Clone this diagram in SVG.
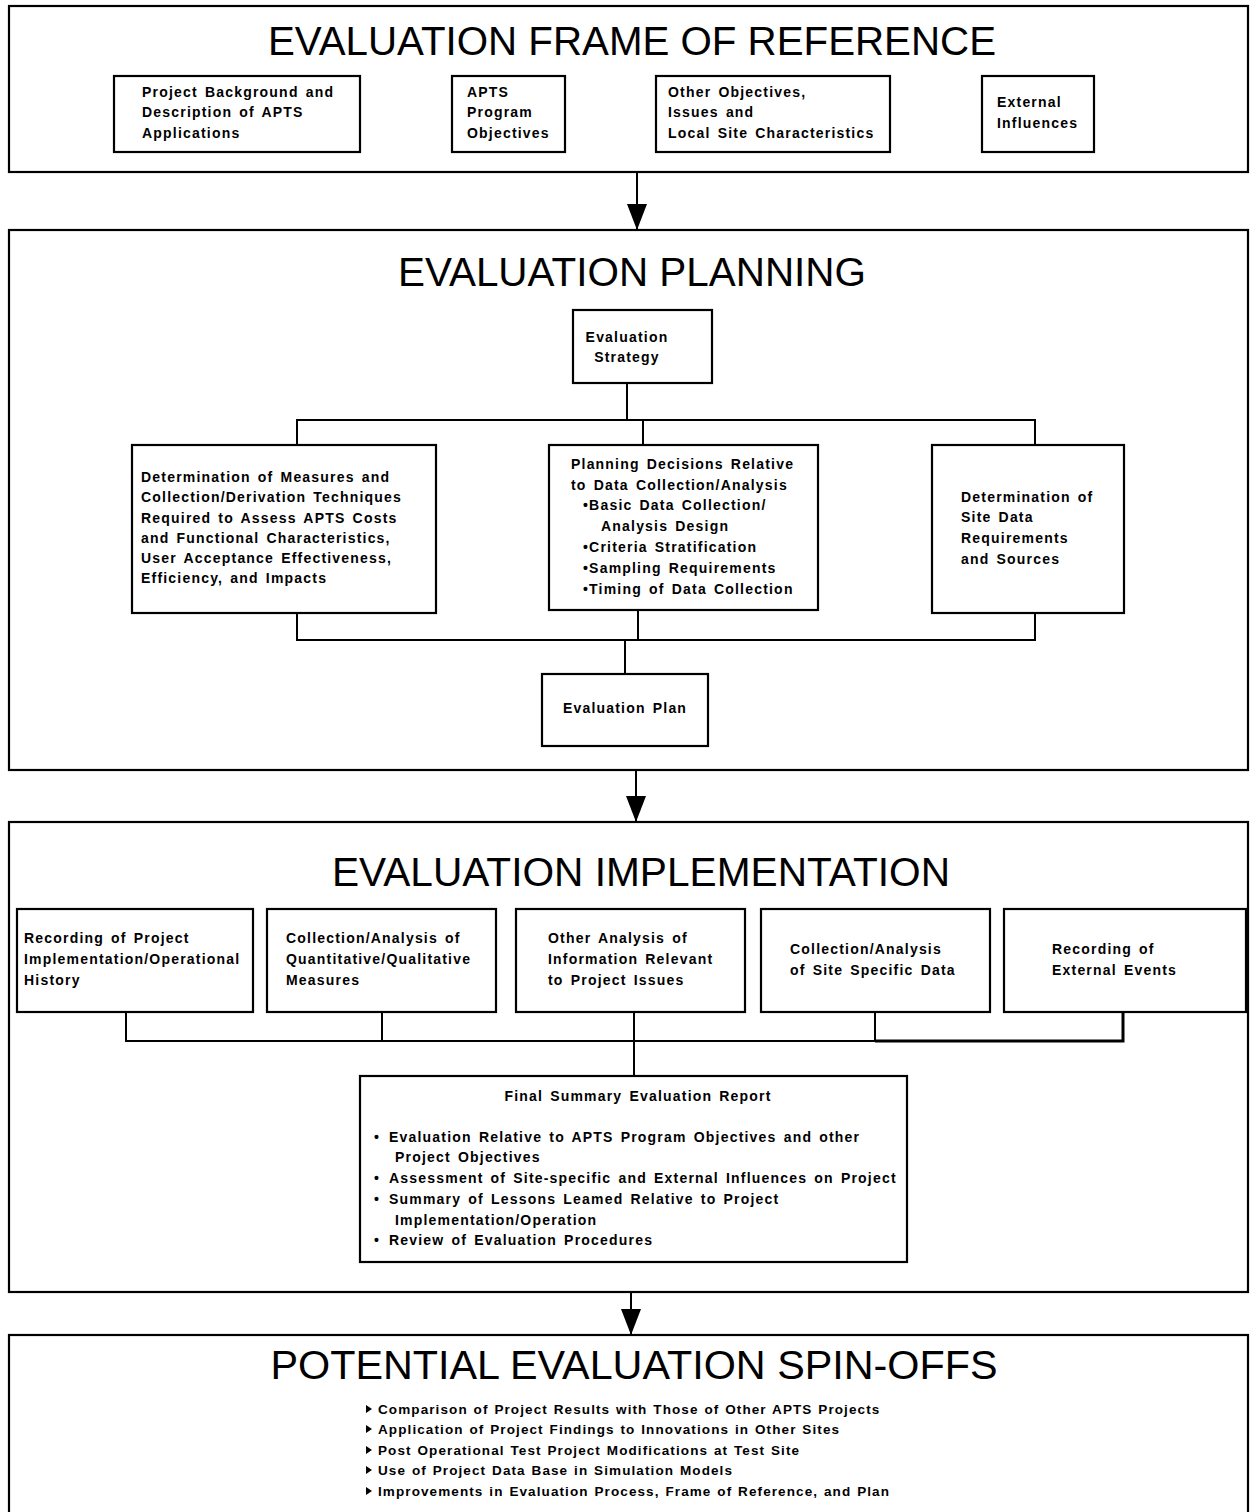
<svg xmlns="http://www.w3.org/2000/svg" width="1250" height="1512" viewBox="0 0 1250 1512">
<defs>
<style>
.frame{fill:#fff;stroke:#000;stroke-width:2.2}
.box{fill:#fff;stroke:#000;stroke-width:2.2}
.ttl{font-family:"Liberation Sans",Arial,sans-serif;font-size:40px;fill:#000;text-anchor:middle}
.t{font-family:"Liberation Sans",Arial,sans-serif;font-size:14px;font-weight:bold;fill:#000;letter-spacing:1.2px;word-spacing:2px}
.s{font-family:"Liberation Sans",Arial,sans-serif;font-size:13.5px;font-weight:bold;fill:#000;letter-spacing:1.1px;word-spacing:1px}
.c{text-anchor:middle}
.ln{fill:none;stroke:#000;stroke-width:2}
.lnb{fill:none;stroke:#000;stroke-width:3}
</style>
<marker id="arr" viewBox="0 0 26 20" refX="26" refY="10" markerWidth="26" markerHeight="20" markerUnits="userSpaceOnUse" orient="auto">
<path d="M0,0 L26,10 L0,20 Z" fill="#000"/>
</marker>
</defs>
<rect width="1250" height="1512" fill="#fff"/>

<g id="frame-of-reference">
<rect class="frame" x="9" y="6" width="1239" height="166"/>
<text class="ttl" x="632" y="55" textLength="728" lengthAdjust="spacingAndGlyphs">EVALUATION FRAME OF REFERENCE</text>
</g>
<g id="node-background">
<rect class="box" x="114" y="76" width="246" height="76"/>
<text class="t" x="142" y="97">Project Background and</text>
<text class="t" x="142" y="117">Description of APTS</text>
<text class="t" x="142" y="138">Applications</text>
</g>
<g id="node-apts-objectives">
<rect class="box" x="452" y="76" width="113" height="76"/>
<text class="t" x="467" y="97">APTS</text>
<text class="t" x="467" y="117">Program</text>
<text class="t" x="467" y="138">Objectives</text>
</g>
<g id="node-other-objectives">
<rect class="box" x="656" y="76" width="234" height="76"/>
<text class="t" x="668" y="97">Other Objectives,</text>
<text class="t" x="668" y="117">Issues and</text>
<text class="t" x="668" y="138">Local Site Characteristics</text>
</g>
<g id="node-external">
<rect class="box" x="982" y="76" width="112" height="76"/>
<text class="t" x="997" y="107">External</text>
<text class="t" x="997" y="128">Influences</text>
</g>

<g id="planning">
<rect class="frame" x="9" y="230" width="1239" height="540"/>
<text class="ttl" x="632" y="286" textLength="468" lengthAdjust="spacingAndGlyphs">EVALUATION PLANNING</text>
</g>
<g id="node-strategy">
<rect class="box" x="573" y="310" width="139" height="73"/>
<text class="t c" x="627" y="342">Evaluation</text>
<text class="t c" x="627" y="362">Strategy</text>
</g>
<g id="node-measures">
<rect class="box" x="132" y="445" width="304" height="168"/>
<text class="t" x="141" y="482">Determination of Measures and</text>
<text class="t" x="141" y="502">Collection/Derivation Techniques</text>
<text class="t" x="141" y="523">Required to Assess APTS Costs</text>
<text class="t" x="141" y="543">and Functional Characteristics,</text>
<text class="t" x="141" y="563">User Acceptance Effectiveness,</text>
<text class="t" x="141" y="583">Efficiency, and Impacts</text>
</g>
<g id="node-planning-decisions">
<rect class="box" x="549" y="445" width="269" height="165"/>
<text class="t" x="571" y="469">Planning Decisions Relative</text>
<text class="t" x="571" y="490">to Data Collection/Analysis</text>
<text class="t" x="583" y="510">•Basic Data Collection/</text>
<text class="t" x="601" y="531">Analysis Design</text>
<text class="t" x="583" y="552">•Criteria Stratification</text>
<text class="t" x="583" y="573">•Sampling Requirements</text>
<text class="t" x="583" y="594">•Timing of Data Collection</text>
</g>
<g id="node-site-data">
<rect class="box" x="932" y="445" width="192" height="168"/>
<text class="t" x="961" y="502">Determination of</text>
<text class="t" x="961" y="522">Site Data</text>
<text class="t" x="961" y="543">Requirements</text>
<text class="t" x="961" y="564">and Sources</text>
</g>
<g id="node-plan">
<rect class="box" x="542" y="674" width="166" height="72"/>
<text class="t c" x="625" y="713">Evaluation Plan</text>
</g>

<g id="implementation">
<rect class="frame" x="9" y="822" width="1239" height="470"/>
<text class="ttl" x="641" y="886" textLength="618" lengthAdjust="spacingAndGlyphs">EVALUATION IMPLEMENTATION</text>
</g>
<g id="node-recording-history">
<rect class="box" x="17" y="909" width="236" height="103"/>
<text class="t" x="24" y="943">Recording of Project</text>
<text class="t" x="24" y="964">Implementation/Operational</text>
<text class="t" x="24" y="985">History</text>
</g>
<g id="node-quant-qual">
<rect class="box" x="267" y="909" width="229" height="103"/>
<text class="t" x="286" y="943">Collection/Analysis of</text>
<text class="t" x="286" y="964">Quantitative/Qualitative</text>
<text class="t" x="286" y="985">Measures</text>
</g>
<g id="node-other-analysis">
<rect class="box" x="516" y="909" width="229" height="103"/>
<text class="t" x="548" y="943">Other Analysis of</text>
<text class="t" x="548" y="964">Information Relevant</text>
<text class="t" x="548" y="985">to Project Issues</text>
</g>
<g id="node-site-specific">
<rect class="box" x="761" y="909" width="229" height="103"/>
<text class="t" x="790" y="954">Collection/Analysis</text>
<text class="t" x="790" y="975">of Site Specific Data</text>
</g>
<g id="node-external-events">
<rect class="box" x="1004" y="909" width="242" height="103"/>
<text class="t" x="1052" y="954">Recording of</text>
<text class="t" x="1052" y="975">External Events</text>
</g>
<g id="node-final-report">
<rect class="box" x="360" y="1076" width="547" height="186"/>
<text class="t c" x="638" y="1101">Final Summary Evaluation Report</text>
<text class="t" x="374" y="1142">•</text>
<text class="t" x="389" y="1142">Evaluation Relative to APTS Program Objectives and other</text>
<text class="t" x="395" y="1162">Project Objectives</text>
<text class="t" x="374" y="1183">•</text>
<text class="t" x="389" y="1183">Assessment of Site-specific and External Influences on Project</text>
<text class="t" x="374" y="1204">•</text>
<text class="t" x="389" y="1204">Summary of Lessons Leamed Relative to Project</text>
<text class="t" x="395" y="1225">Implementation/Operation</text>
<text class="t" x="374" y="1245">•</text>
<text class="t" x="389" y="1245">Review of Evaluation Procedures</text>
</g>

<g id="spin-offs">
<rect class="frame" x="9" y="1335" width="1239" height="180"/>
<text class="ttl" x="634" y="1379" textLength="727" lengthAdjust="spacingAndGlyphs">POTENTIAL EVALUATION SPIN-OFFS</text>
<path d="M366,1405 L372,1409 L366,1413 Z M366,1425 L372,1429 L366,1433 Z M366,1446 L372,1450 L366,1454 Z M366,1466 L372,1470 L366,1474 Z M366,1487 L372,1491 L366,1495 Z" fill="#000"/>
<text class="s" x="378" y="1414">Comparison of Project Results with Those of Other APTS Projects</text>
<text class="s" x="378" y="1434">Application of Project Findings to Innovations in Other Sites</text>
<text class="s" x="378" y="1455">Post Operational Test Project Modifications at Test Site</text>
<text class="s" x="378" y="1475">Use of Project Data Base in Simulation Models</text>
<text class="s" x="378" y="1496">Improvements in Evaluation Process, Frame of Reference, and Plan</text>
</g>

<g id="connectors">
<line class="ln" x1="637" y1="172" x2="637" y2="230" marker-end="url(#arr)"/>
<line class="ln" x1="636" y1="770" x2="636" y2="822" marker-end="url(#arr)"/>
<line class="ln" x1="631" y1="1292" x2="631" y2="1335" marker-end="url(#arr)"/>
<path class="ln" d="M627,383 V420 M297,445 V420 H1035 V445 M643,420 V445"/>
<path class="ln" d="M297,613 V640 H1035 V613 M638,610 V640 M625,640 V674"/>
<path class="ln" d="M126,1012 V1041 H875 M382,1012 V1041 M875,1012 V1041 M634,1012 V1076"/>
<path class="lnb" d="M875,1041 H1123 V1012"/>
</g>
</svg>
